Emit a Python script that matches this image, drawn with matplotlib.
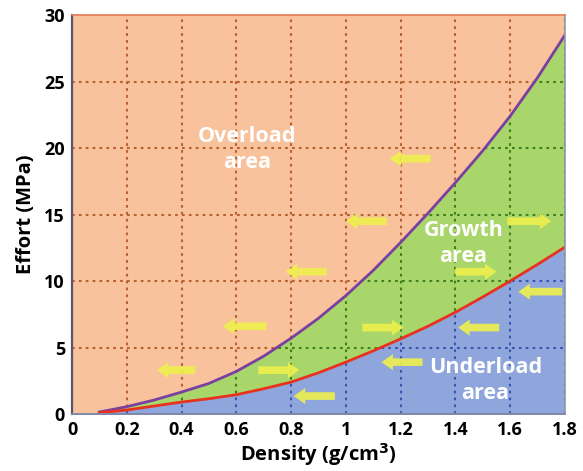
import matplotlib
matplotlib.use("Agg")
import matplotlib.pyplot as plt
from matplotlib.patches import Polygon
import numpy as np

# ---- data ----
density = [0.1, 0.2, 0.3, 0.4, 0.5, 0.6, 0.7, 0.8, 0.9, 1.0, 1.1, 1.2, 1.3, 1.4, 1.5, 1.6, 1.7, 1.8]
upper_effort = [0.15, 0.55, 1.05, 1.65, 2.3, 3.2, 4.35, 5.7, 7.2, 8.9, 10.8, 12.9, 15.1, 17.4, 19.8, 22.4, 25.3, 28.5]
lower_effort = [0.1, 0.3, 0.6, 0.9, 1.15, 1.45, 1.9, 2.4, 3.1, 3.9, 4.75, 5.65, 6.6, 7.65, 8.8, 10.0, 11.25, 12.55]

x_ticks = [0, 0.2, 0.4, 0.6, 0.8, 1.0, 1.2, 1.4, 1.6, 1.8]
x_tick_labels = ["0", "0.2", "0.4", "0.6", "0.8", "1", "1.2", "1.4", "1.6", "1.8"]
y_ticks = [0, 5, 10, 15, 20, 25, 30]
y_tick_labels = ["0", "5", "10", "15", "20", "25", "30"]

# arrows: (tail_x, tip_x, y)
arrows_left = [(1.31, 1.16, 19.2), (1.15, 1.00, 14.5), (0.93, 0.78, 10.7), (0.71, 0.55, 6.6),
               (1.56, 1.41, 6.5), (0.45, 0.31, 3.3), (1.28, 1.13, 3.9), (1.79, 1.63, 9.2),
               (0.96, 0.81, 1.35)]
arrows_right = [(1.59, 1.75, 14.5), (1.40, 1.55, 10.7), (1.06, 1.21, 6.5), (0.68, 0.83, 3.3)]

region_labels = ["Overload\narea", "Growth\narea", "Underload\narea"]
region_label_pos = [(0.64, 19.9), (1.43, 12.8), (1.51, 2.5)]

# ---- colours ----
c_over = "#F8C29C"
c_grow = "#A9D66B"
c_under = "#8FA6DC"
g_over = "#B8602E"
g_grow = "#3F7F1E"
g_under = "#3A55B0"

plt.rcParams['font.family'] = ['Open Sans', 'DejaVu Sans']

fig = plt.figure(figsize=(5.83, 4.71), dpi=100)
ax = fig.add_axes([0.1235, 0.121, 0.8455, 0.847])
ax.set_xlim(0, 1.8)
ax.set_ylim(0, 30)
ax.set_facecolor(c_over)

x = np.array(density)
up = np.array(upper_effort)
lo = np.array(lower_effort)

grow_poly = Polygon(np.column_stack([np.concatenate([x, x[::-1]]),
                                     np.concatenate([up, lo[::-1]])]),
                    closed=True, facecolor=c_grow, edgecolor='none', zorder=2)
under_poly = Polygon(np.column_stack([np.concatenate([x, [x[-1], x[0]]]),
                                      np.concatenate([lo, [0, 0]])]),
                     closed=True, facecolor=c_under, edgecolor='none', zorder=2)
ax.add_patch(grow_poly)
ax.add_patch(under_poly)

ls = (0, (1.3, 2.0))


def draw_grid(color, zorder, clip=None):
    for xv in x_ticks[1:]:
        ln, = ax.plot([xv, xv], [0, 30], color=color, lw=1.5, ls=ls, zorder=zorder)
        if clip is not None:
            ln.set_clip_path(clip)
    for yv in y_ticks[1:-1]:
        ln, = ax.plot([0, 1.8], [yv, yv], color=color, lw=1.5, ls=ls, zorder=zorder)
        if clip is not None:
            ln.set_clip_path(clip)


draw_grid(g_over, 1)
draw_grid(g_grow, 3, grow_poly)
draw_grid(g_under, 3, under_poly)

ax.plot(x, up, color="#7A3FA0", lw=2.0, zorder=4, solid_joinstyle='round')
ax.plot(x, lo, color="#E8321E", lw=2.0, zorder=4, solid_joinstyle='round')

arrow_style = 'simple,head_length=0.75,head_width=1.05,tail_width=0.5'
for tail, tip, yv in arrows_left + arrows_right:
    ax.annotate('', xy=(tip, yv), xytext=(tail, yv),
                arrowprops=dict(arrowstyle=arrow_style, color="#EEF04C", alpha=0.9,
                                lw=0, shrinkA=0, shrinkB=0, mutation_scale=11), zorder=5)

for lab, (lx, ly) in zip(region_labels, region_label_pos):
    ax.text(lx, ly, lab, color='white', fontsize=15.5, fontweight='bold',
            ha='center', va='center', linespacing=1.3, zorder=6)

ax.set_xticks(x_ticks)
ax.set_xticklabels(x_tick_labels)
ax.set_yticks(y_ticks)
ax.set_yticklabels(y_tick_labels)
ax.tick_params(length=0, labelsize=13, pad=5)
for lab in ax.get_xticklabels() + ax.get_yticklabels():
    lab.set_fontweight('bold')

ax.set_xlabel("Density (g/cm$^\\mathbf{3}$)", fontsize=14.5, fontweight='bold', labelpad=1.5)
ax.set_ylabel("Effort (MPa)", fontsize=14.5, fontweight='bold', labelpad=6)

ax.spines['left'].set_color('#55586A')
ax.spines['left'].set_linewidth(1.6)
ax.spines['bottom'].set_color('#8088A8')
ax.spines['bottom'].set_linewidth(1.4)
ax.spines['top'].set_color('#E07A55')
ax.spines['top'].set_linewidth(1.2)
ax.spines['right'].set_color('#9098A8')
ax.spines['right'].set_linewidth(1.2)
for s in ax.spines.values():
    s.set_zorder(7)

fig.savefig("out.png", dpi=100)
